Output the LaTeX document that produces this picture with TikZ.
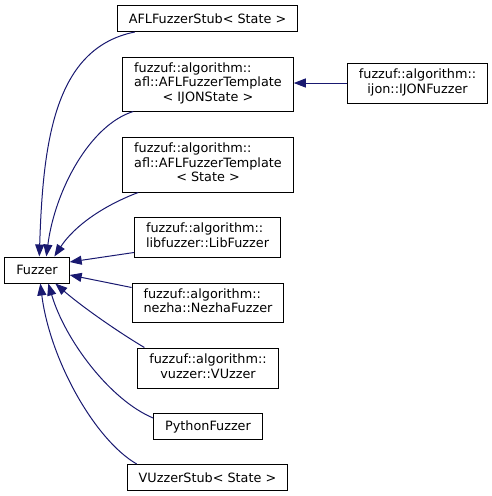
\documentclass[tikz,border=0pt]{standalone}
\usepackage{fontspec}
\setmainfont{DejaVu Sans}
\usetikzlibrary{arrows.meta}
\definecolor{edgeblue}{HTML}{191970}

% class labels: leading lines flush left, last line centred
\newcommand{\twolabel}[2]{\begin{tabular}{@{}l@{}}#1\\\multicolumn{1}{@{}c@{}}{#2}\end{tabular}}
\newcommand{\threelabel}[3]{\begin{tabular}{@{}l@{}}#1\\#2\\\multicolumn{1}{@{}c@{}}{#3}\end{tabular}}

\begin{document}
\begin{tikzpicture}[x=1pt, y=-1pt,
  classbox/.style={draw=black, fill=white, line width=1pt, inner xsep=11.5pt,
    inner ysep=1pt, minimum height=26pt, font=\fontsize{12.8}{14.5}\selectfont},
  derived/.style={draw=edgeblue, line width=1pt,
    -{Triangle[length=12pt, width=9pt]}}]
\useasboundingbox (0,0) rectangle (492,496);

\node[classbox] (fuzzer) at (37,270) {Fuzzer};

\node[classbox] (stub) at (207.5,18.5) {AFLFuzzerStub< State >};
\node[classbox, minimum height=54pt] (tmplijon) at (208,84)
  {\threelabel{fuzzuf::algorithm::}{afl::AFLFuzzerTemplate}{< IJONState >}};
\node[classbox, minimum height=55pt] (tmplstate) at (208,164.5)
  {\threelabel{fuzzuf::algorithm::}{afl::AFLFuzzerTemplate}{< State >}};
\node[classbox, minimum height=40pt] (lib) at (207.5,237)
  {\twolabel{fuzzuf::algorithm::}{libfuzzer::LibFuzzer}};
\node[classbox, minimum height=39pt] (nezha) at (208,302.5)
  {\twolabel{fuzzuf::algorithm::}{nezha::NezhaFuzzer}};
\node[classbox, minimum height=40pt] (vuzzer) at (208,368)
  {\twolabel{fuzzuf::algorithm::}{vuzzer::VUzzer}};
\node[classbox] (python) at (208,426.5) {PythonFuzzer};
\node[classbox] (vstub) at (207.5,477.5) {VUzzerStub< State >};
\node[classbox, minimum height=40pt] (ijon) at (417.5,83)
  {\twolabel{fuzzuf::algorithm::}{ijon::IJONFuzzer}};

% inheritance edges
\draw[derived] (ijon.west) -- (tmplijon.east |- ijon.west);
\draw[derived] ([xshift=18pt]stub.south west) .. controls (55,48) and (43,140) .. ([xshift=35pt]fuzzer.north west);
\draw[derived] ([xshift=11pt]tmplijon.south west) .. controls (90,125) and (55,190) .. ([xshift=42pt]fuzzer.north west);
\draw[derived] ([xshift=16pt]tmplstate.south west) .. controls (105,205) and (75,225) .. ([xshift=50pt]fuzzer.north west);
\draw[derived] ([yshift=5pt]lib.south west) -- ([yshift=8pt]fuzzer.east);
\draw[derived] ([yshift=-5pt]nezha.north west) -- ([yshift=-5pt]fuzzer.east);
\draw[derived] ([xshift=7pt]vuzzer.north west) .. controls (115,330) and (80,305) .. ([xshift=51pt]fuzzer.south west);
\draw[derived] ([yshift=8.5pt]python.west) .. controls (110,400) and (65,340) .. ([xshift=44pt]fuzzer.south west);
\draw[derived] ([xshift=10pt]vstub.north west) .. controls (95,440) and (50,360) .. ([xshift=36pt]fuzzer.south west);
\end{tikzpicture}
\end{document}
